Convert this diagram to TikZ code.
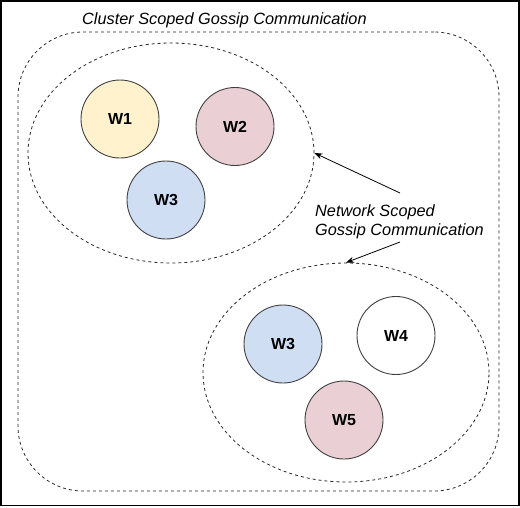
\documentclass[tikz,border=0pt]{standalone}
\usepackage{fontspec}
\setmainfont{Liberation Sans}
\usetikzlibrary{shapes.geometric,arrows.meta}
\definecolor{yel}{HTML}{FFF2CC}
\definecolor{pnk}{HTML}{EAD0D5}
\definecolor{blu}{HTML}{D0DEF4}
\definecolor{edge}{HTML}{404040}
\tikzset{
  dsh/.style={draw=black!85, line width=0.8pt, dash pattern=on 3pt off 3pt},
  worker/.style={circle, draw=edge, line width=0.9pt, minimum size=78pt, inner sep=0pt,
    font=\fontsize{16}{18}\selectfont\bfseries},
  lbl/.style={font=\fontsize{16.3}{19}\selectfont\itshape, inner sep=0pt},
  arr/.style={line width=0.8pt, -{Stealth[length=8pt,width=6pt]}}
}
\begin{document}
\begin{tikzpicture}[x=1pt,y=-1pt]
\useasboundingbox (0,0) rectangle (520,507);
\draw[line width=1.6pt] (0.8,0.8) rectangle (518.8,505.6);
\node[lbl, anchor=base west] (title) at (82,24) {Cluster Scoped Gossip Communication};
\node[dsh, rectangle, rounded corners=65pt, minimum width=481pt, minimum height=459pt, inner sep=0pt] (cluster) at (258.5,261.5) {};
\node[dsh, ellipse, minimum width=286pt, minimum height=220pt, inner sep=0pt] (ell1) at (171,153) {};
\node[dsh, ellipse, minimum width=286pt, minimum height=219pt, inner sep=0pt] (ell2) at (346,372.5) {};
\node[worker, fill=yel] (w1) at (120,119) {W1};
\node[worker, fill=pnk] (w2) at (235,126.5) {W2};
\node[worker, fill=blu] (w3) at (166,200) {W3};
\node[worker, fill=blu] (w3b) at (283,344) {W3};
\node[worker, fill=white] (w4) at (396,335.5) {W4};
\node[worker, fill=pnk] (w5) at (344,420) {W5};
\node[lbl, align=left, anchor=north west] (net) at (315,204.5) {Network Scoped\\Gossip Communication};
\coordinate (s1) at (400,193);
\coordinate (s2) at (400,242);
\draw[arr] (s1) -- (ell1.east);
\draw[arr] (s2) -- (ell2.north);
\end{tikzpicture}
\end{document}
